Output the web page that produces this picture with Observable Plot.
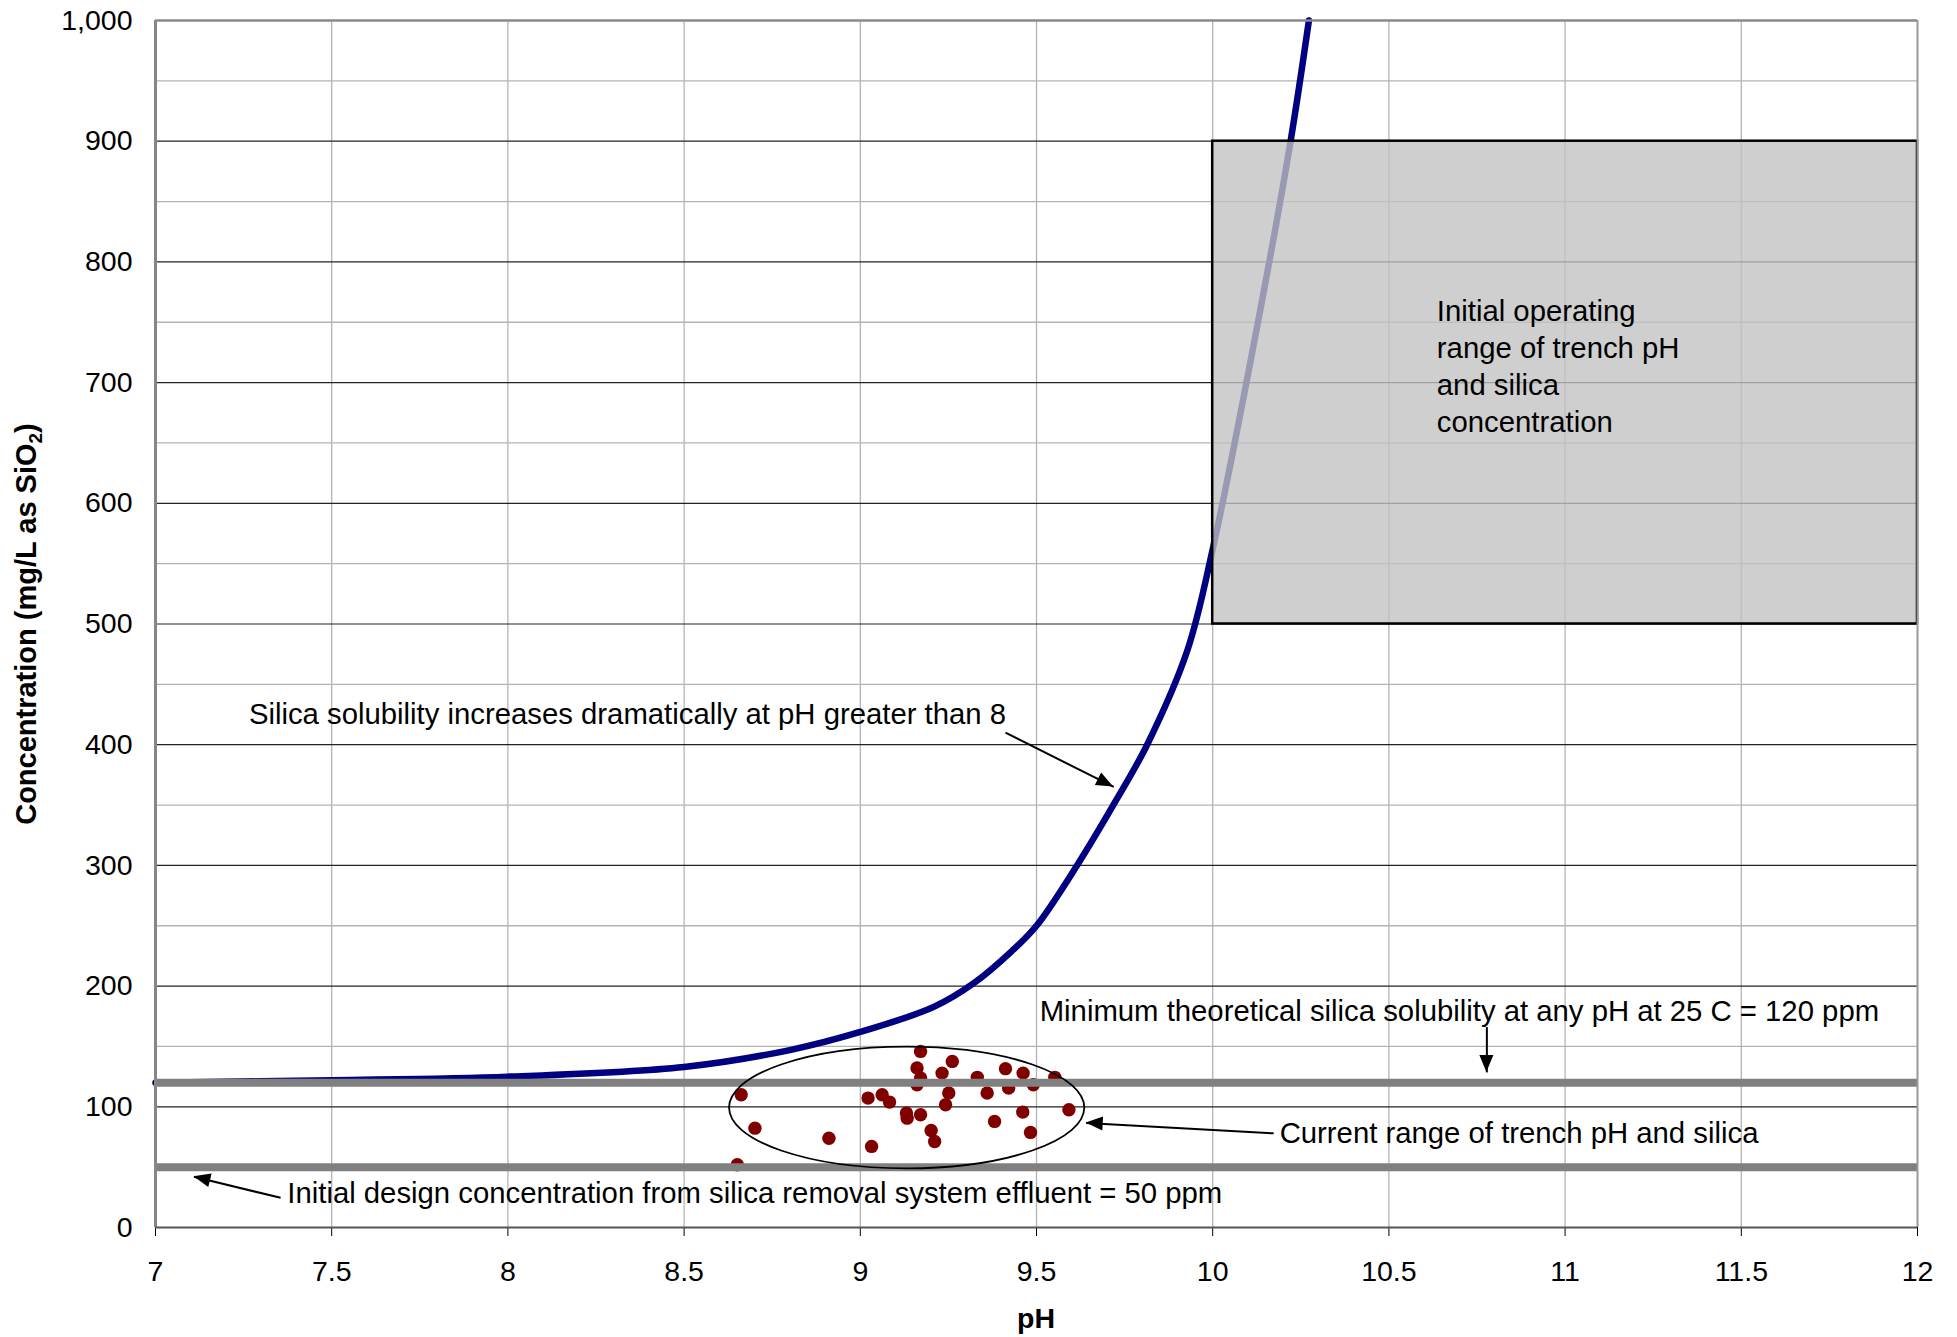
<!DOCTYPE html>
<html>
<head>
<meta charset="utf-8">
<script src="https://cdn.jsdelivr.net/npm/d3@7"></script>
<script src="https://cdn.jsdelivr.net/npm/@observablehq/plot@0.6"></script>
<style>
  html, body { margin: 0; padding: 0; background: #fff; overflow: hidden; }
</style>
</head>
<body>
<div id="chart"></div>
<script>
// ---------- data ----------
const xTicks = [7, 7.5, 8, 8.5, 9, 9.5, 10, 10.5, 11, 11.5, 12];
const yTicks = [0, 100, 200, 300, 400, 500, 600, 700, 800, 900, 1000];
const yMinor = [50, 150, 250, 350, 450, 550, 650, 750, 850, 950];

// silica solubility curve
const curvePH   = [7.0, 7.5, 8.0, 8.5, 8.8, 9.0, 9.21, 9.32, 9.43, 9.5, 9.615, 9.724, 9.814, 9.928, 10.0, 10.14, 10.221, 10.273];
const curveConc = [120, 122, 125, 133, 147, 162, 183, 202, 229, 250, 300, 353, 400, 478, 562, 768, 900, 1000];

// current trench measurements
const samplePH = [9.171, 9.261, 9.161, 9.171, 9.161, 9.232, 9.332, 9.412, 9.462, 9.552, 9.491, 9.421, 9.360, 9.251, 9.242, 8.662,
                  9.022, 9.062, 9.083, 9.131, 9.133, 9.171, 9.461, 9.592, 9.381, 8.701, 9.483, 9.201, 9.211, 8.911, 9.032, 8.651];
const sampleConc = [145.9, 137.6, 132.1, 123.8, 118.3, 127.9, 124.4, 131.6, 127.9, 124.4, 118.3, 115.5, 111.4, 111.4, 101.7, 110.0,
                    107.2, 110.0, 103.9, 94.8, 90.6, 93.4, 95.6, 97.6, 87.9, 82.3, 78.8, 80.4, 71.3, 74.0, 67.2, 52.0];

// reference levels
const refLevels = [120, 50];

// initial operating range box
const boxPH = [10, 12];
const boxConc = [500, 900];
const boxLabel = "Initial operating\nrange of trench pH\nand silica\nconcentration";
const boxLabelPH = 10.636;
const boxLabelConc = 715;

// current-range ellipse (centre and half-axes)
const ellipsePH = 9.133, ellipseConc = 99, ellipseHalfPH = 0.504, ellipseHalfConc = 50.4;

// annotations
const noteText = [
  "Silica solubility increases dramatically at pH greater than 8",
  "Minimum theoretical silica solubility at any pH at 25 C = 120 ppm",
  "Current range of trench pH and silica",
  "Initial design concentration from silica removal system effluent = 50 ppm"
];
const notePH = [7.265, 9.509, 10.19, 7.374];
const noteConc = [425, 179, 77.5, 28.2];

const arrowPH1 = [9.412, 10.778, 10.173, 7.355];
const arrowConc1 = [410, 166, 78, 24.6];
const arrowPH2 = [9.719, 10.778, 9.641, 7.109];
const arrowConc2 = [365, 128.5, 86.5, 42];

// ---------- tables ----------
const curve = curvePH.map((p, i) => ({ph: p, conc: curveConc[i]}));
const samples = samplePH.map((p, i) => ({ph: p, conc: sampleConc[i]}));
const notes = noteText.map((t, i) => ({text: t, ph: notePH[i], conc: noteConc[i]}));
const arrows = arrowPH1.map((p, i) => ({x1: p, y1: arrowConc1[i], x2: arrowPH2[i], y2: arrowConc2[i]}));
const box = [{x1: boxPH[0], x2: boxPH[1], y1: boxConc[0], y2: boxConc[1]}];

const FONT = "'Liberation Sans', Arial, Helvetica, sans-serif";

function ellipseMark(index, scales) {
  const cx = scales.x(ellipsePH), cy = scales.y(ellipseConc);
  return d3.create("svg:ellipse")
    .attr("cx", cx).attr("cy", cy)
    .attr("rx", scales.x(ellipsePH + ellipseHalfPH) - cx)
    .attr("ry", scales.y(ellipseConc - ellipseHalfConc) - cy)
    .attr("fill", "none").attr("stroke", "#000").attr("stroke-width", 1.8)
    .node();
}

function arrowHeads(index, scales) {
  const g = d3.create("svg:g").attr("aria-label", "arrowheads");
  arrows.forEach(d => {
    const x1 = scales.x(d.x1), y1 = scales.y(d.y1), x2 = scales.x(d.x2), y2 = scales.y(d.y2);
    const a = Math.atan2(y2 - y1, x2 - x1);
    const L = 17, W = 7;
    const bx = x2 - L * Math.cos(a), by = y2 - L * Math.sin(a);
    const px = -Math.sin(a) * W, py = Math.cos(a) * W;
    g.append("path")
      .attr("d", `M${x2},${y2}L${bx + px},${by + py}L${bx - px},${by - py}Z`)
      .attr("fill", "#000");
  });
  return g.node();
}

const chart = Plot.plot({
  width: 1957,
  height: 1337,
  marginLeft: 155,
  marginRight: 40,
  marginTop: 20,
  marginBottom: 110,
  style: {fontFamily: FONT, fontSize: "28.5px", color: "#000", background: "#fff"},
  x: {domain: [7, 12], ticks: xTicks, tickSize: 9, tickPadding: 24, tickFormat: d => `${d}`, label: null},
  y: {domain: [0, 1000], ticks: yTicks, tickSize: 0, tickPadding: 23, tickFormat: d3.format(","), label: null},
  marks: [
    Plot.ruleY(yMinor, {stroke: "#b4b4b4", strokeWidth: 1.3}),
    Plot.ruleX(xTicks.slice(1, -1), {stroke: "#b4b4b4", strokeWidth: 1.3}),
    Plot.ruleY(yTicks.slice(1, -1), {stroke: "#222", strokeWidth: 1.2}),
    Plot.line(curve, {x: "ph", y: "conc", stroke: "#000080", strokeWidth: 6.5, curve: "catmull-rom"}),
    Plot.dot(samples, {x: "ph", y: "conc", r: 6.7, fill: "#800000", stroke: "none"}),
    Plot.ruleY(refLevels, {stroke: "#808080", strokeWidth: 8}),
    ellipseMark,
    Plot.rect(box, {x1: "x1", x2: "x2", y1: "y1", y2: "y2", fill: "#c2c2c2", fillOpacity: 0.79, stroke: "#000", strokeWidth: 2.5}),
    Plot.text([boxLabel], {x: boxLabelPH, y: boxLabelConc, text: d => d, textAnchor: "start", lineAnchor: "middle", lineHeight: 1.27, fontSize: 29.3, fill: "#000"}),
    Plot.text(notes, {x: "ph", y: "conc", text: "text", textAnchor: "start", fontSize: 29.3, fill: "#000"}),
    Plot.link(arrows, {x1: "x1", y1: "y1", x2: "x2", y2: "y2", stroke: "#000", strokeWidth: 2}),
    arrowHeads,
    Plot.ruleX([7], {stroke: "#868686", strokeWidth: 3}),
    Plot.ruleX([12], {stroke: "#9a9a9a", strokeWidth: 2}),
    Plot.ruleY([1000], {stroke: "#8a8a8a", strokeWidth: 2.5}),
    Plot.ruleY([0], {stroke: "#555", strokeWidth: 2})
  ]
});

document.getElementById("chart").appendChild(chart);

// axis titles
const svg = d3.select(chart.tagName.toLowerCase() === "svg" ? chart : chart.querySelector("svg"));
svg.append("text")
  .attr("x", 1036).attr("y", 1328)
  .attr("text-anchor", "middle")
  .attr("font-family", FONT).attr("font-size", 28.5).attr("font-weight", "bold")
  .attr("fill", "#000")
  .text("pH");

const yl = svg.append("text")
  .attr("transform", "translate(36,624) rotate(-90)")
  .attr("text-anchor", "middle")
  .attr("font-family", FONT).attr("font-size", 29).attr("font-weight", "bold")
  .attr("fill", "#000");
yl.append("tspan").text("Concentration (mg/L as SiO");
yl.append("tspan").attr("font-size", 19).attr("dy", 6).text("2");
yl.append("tspan").attr("dy", -6).text(")");
</script>
</body>
</html>
